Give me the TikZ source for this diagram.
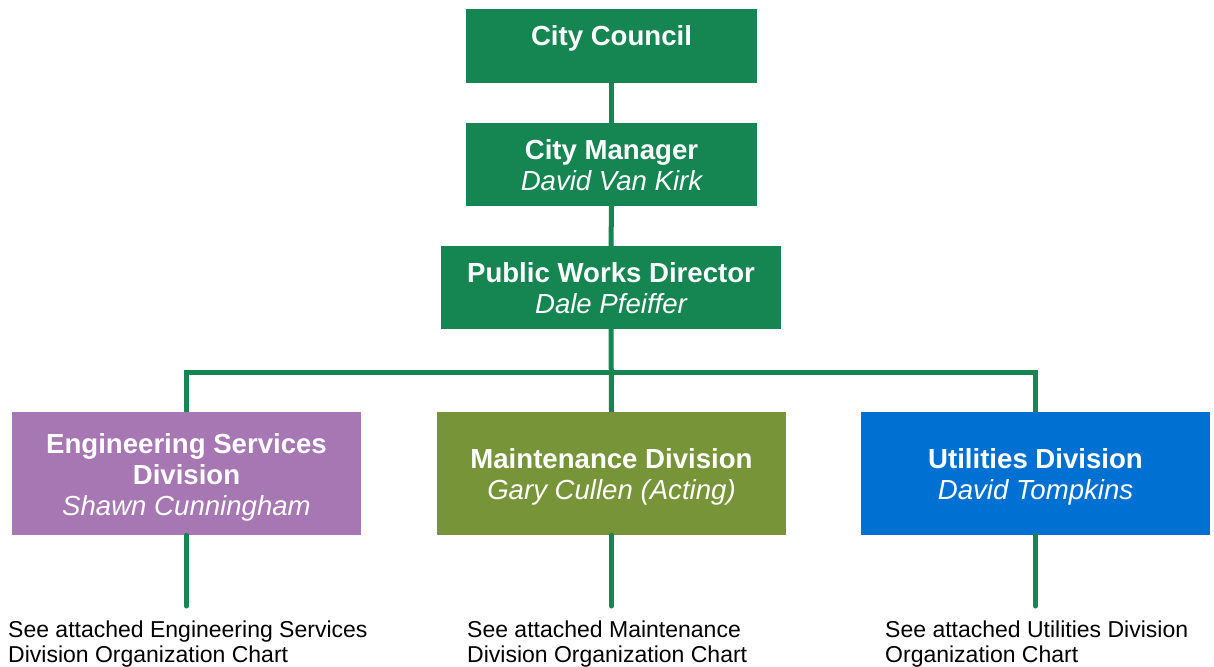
\documentclass[tikz,border=0pt]{standalone}
\usepackage{fontspec}
\setmainfont{Liberation Sans}
\definecolor{cgreen}{HTML}{158552}
\definecolor{cpurple}{HTML}{A677B3}
\definecolor{colive}{HTML}{779538}
\definecolor{cblue}{HTML}{0070D3}
\newcommand\nmfont{\mdseries\itshape}
\begin{document}
\begin{tikzpicture}[x=1pt,y=-1pt,
  box/.style={rectangle, inner sep=0pt, draw=none},
  gbox/.style={box, fill=cgreen},
  btext/.style={inner sep=0pt, text=white, align=center,
    font=\fontsize{27.6}{31}\selectfont\bfseries},
  conn/.style={draw=cgreen, line width=5pt},
  note/.style={anchor=west, align=left, inner sep=0pt, text=black,
    font=\fontsize{23}{25}\selectfont}
]
\useasboundingbox (0,0) rectangle (1214,666);
\fill[white] (0,0) rectangle (1214,666);

% top chain
\node[gbox, minimum width=291, minimum height=74] (cc) at (611.5,46) {};
\node[btext] (ccT) at (611.5,38) {City Council};
\node[gbox, minimum width=291, minimum height=83] (cm) at (611.5,164.5) {};
\node[btext] (cmT) at (611.5,165.5) {City Manager\\{\nmfont David Van Kirk}};
\node[gbox, minimum width=340, minimum height=83] (pwd) at (611,287.5) {};
\node[btext] (pwdT) at (611,288) {Public Works Director\\{\nmfont Dale Pfeiffer}};

% divisions
\node[box, fill=cpurple, minimum width=349, minimum height=123] (eng) at (186.5,473.5) {};
\node[btext] (engT) at (186.5,477.5) {Engineering Services\\Division\\{\nmfont Shawn Cunningham}};
\node[box, fill=colive, minimum width=349, minimum height=123] (mnt) at (611.5,473.5) {};
\node[btext] (mntT) at (611.5,476.5) {Maintenance Division\\{\nmfont Gary Cullen (Acting)}};
\node[box, fill=cblue, minimum width=349, minimum height=123] (utl) at (1035.5,473.5) {};
\node[btext] (utlT) at (1035.5,476.5) {Utilities Division\\{\nmfont David Tompkins}};

% coordinates
\coordinate (busM) at (611.5,372);
\coordinate (endL) at (186.5,606);
\coordinate (endM) at (611.5,606);
\coordinate (endR) at (1035.5,606);

% connectors
\draw[conn] (cc.south) -- (cm.north);
\draw[conn] (cm.south) -- (pwd.north);
\draw[conn] (pwd.south) -- (mnt.north);
\draw[conn] (eng.north) |- (busM) -| (utl.north);
\draw[conn, line cap=round] (eng.south) -- (endL);
\draw[conn, line cap=round] (mnt.south) -- (endM);
\draw[conn, line cap=round] (utl.south) -- (endR);

% notes
\node[note] (nL) at (8,644.5) {See attached Engineering Services\\Division Organization Chart};
\node[note] (nM) at (467,644.5) {See attached Maintenance\\Division Organization Chart};
\node[note] (nR) at (885,644.5) {See attached Utilities Division\\Organization Chart};
\end{tikzpicture}
\end{document}
